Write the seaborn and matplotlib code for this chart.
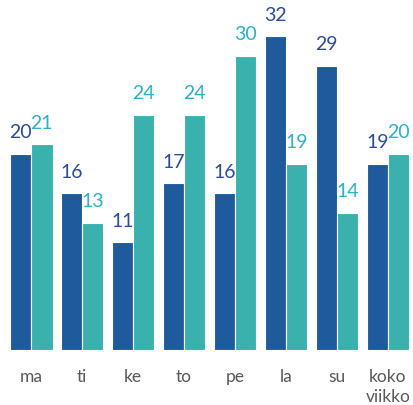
import matplotlib
matplotlib.use("Agg")
import matplotlib.pyplot as plt
import seaborn as sns
import pandas as pd

days = ["ma", "ti", "ke", "to", "pe", "la", "su", "koko\nviikko"]
series_names = ["A", "B"]
values_a = [20, 16, 11, 17, 16, 32, 29, 19]
values_b = [21, 13, 24, 24, 30, 19, 14, 20]

bar_colors = ["#1f5a9c", "#3ab1ac"]
label_colors = ["#2b4c9b", "#2eb1c4"]

df = pd.DataFrame({
    "day": days * 2,
    "series": [series_names[0]] * len(days) + [series_names[1]] * len(days),
    "value": values_a + values_b,
})

sns.set_theme(style="white")
plt.rcParams["font.family"] = ["Lato", "DejaVu Sans"]

fig = plt.figure(figsize=(4.14, 4.05), dpi=100)
ax = fig.add_axes([0, 55 / 405, 1, 350 / 405])

sns.barplot(data=df, x="day", y="value", hue="series", order=days,
            hue_order=series_names, palette=bar_colors, saturation=1,
            width=0.84, edgecolor="white", linewidth=0.8, legend=False, ax=ax)

for cont, col in zip(ax.containers, label_colors):
    ax.bar_label(cont, labels=[f"{v:g}" for v in cont.datavalues],
                 padding=9, color=col, fontsize=14)

ax.set_xlim(-0.61, 7.51)
ax.set_ylim(0, 35.7)
ax.set_xlabel("")
ax.set_ylabel("")
ax.set_yticks([])
ax.tick_params(axis="x", length=0, pad=14, labelsize=12.5, labelcolor="#595959")
for lbl in ax.get_xticklabels():
    lbl.set_linespacing(1.25)
for s in ax.spines.values():
    s.set_visible(False)

fig.savefig("out.png", dpi=100)
